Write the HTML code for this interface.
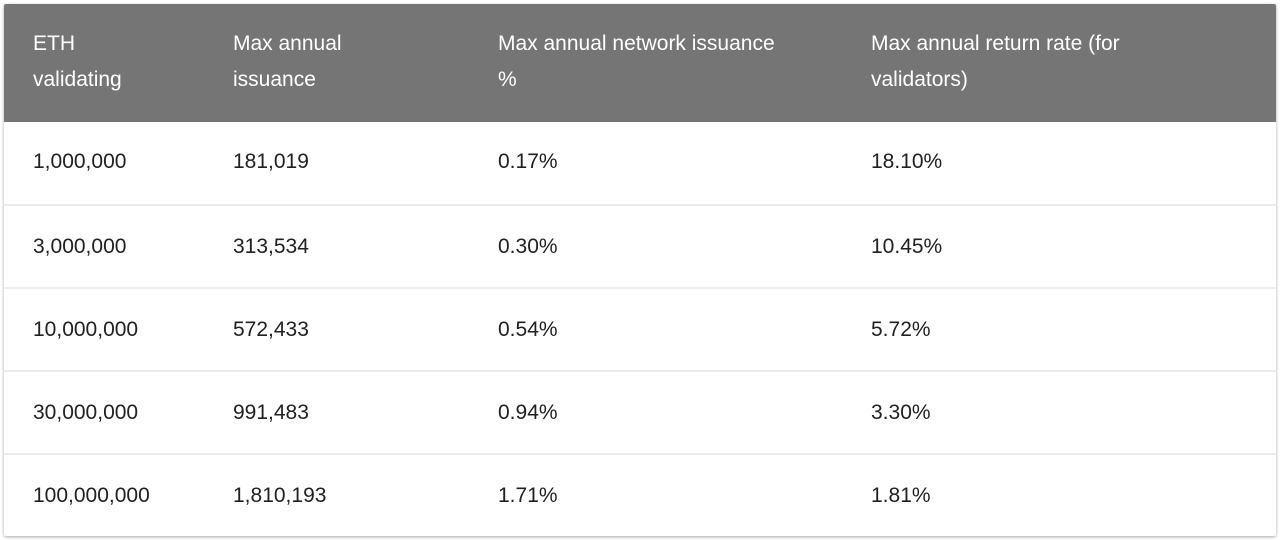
<!DOCTYPE html>
<html><head><style>
body{margin:0;width:1280px;height:540px;background:#fff;font-family:"Liberation Sans",sans-serif;position:relative;overflow:hidden}
.card{position:absolute;left:4px;top:4px;width:1272px;height:532px;background:#fff;box-shadow:0 1px 3px rgba(0,0,0,.35);border-radius:2px;overflow:hidden}
.hdr{position:absolute;left:0;top:0;width:1272px;height:118px;background:#757575;color:#fff}
.c{position:absolute;font-size:21px;line-height:36px}
.row{position:absolute;left:0;width:1272px;height:83px;border-top:2px solid #ececec;color:#212121}
.row .c{top:0;line-height:81px}
</style></head><body>
<div class="card">
<div class="hdr">
<div class="c" style="left:29px;top:22px">ETH<br>validating</div>
<div class="c" style="left:229px;top:22px">Max annual<br>issuance</div>
<div class="c" style="left:494px;top:22px">Max annual network issuance<br>%</div>
<div class="c" style="left:867px;top:22px">Max annual return rate (for<br>validators)</div>
</div>
<div class="row" style="top:117px;border-top:none"><div class="c" style="left:29px">1,000,000</div><div class="c" style="left:229px">181,019</div><div class="c" style="left:494px">0.17%</div><div class="c" style="left:867px">18.10%</div></div>
<div class="row" style="top:200px"><div class="c" style="left:29px">3,000,000</div><div class="c" style="left:229px">313,534</div><div class="c" style="left:494px">0.30%</div><div class="c" style="left:867px">10.45%</div></div>
<div class="row" style="top:283px"><div class="c" style="left:29px">10,000,000</div><div class="c" style="left:229px">572,433</div><div class="c" style="left:494px">0.54%</div><div class="c" style="left:867px">5.72%</div></div>
<div class="row" style="top:366px"><div class="c" style="left:29px">30,000,000</div><div class="c" style="left:229px">991,483</div><div class="c" style="left:494px">0.94%</div><div class="c" style="left:867px">3.30%</div></div>
<div class="row" style="top:449px"><div class="c" style="left:29px">100,000,000</div><div class="c" style="left:229px">1,810,193</div><div class="c" style="left:494px">1.71%</div><div class="c" style="left:867px">1.81%</div></div>
</div>
</body></html>
